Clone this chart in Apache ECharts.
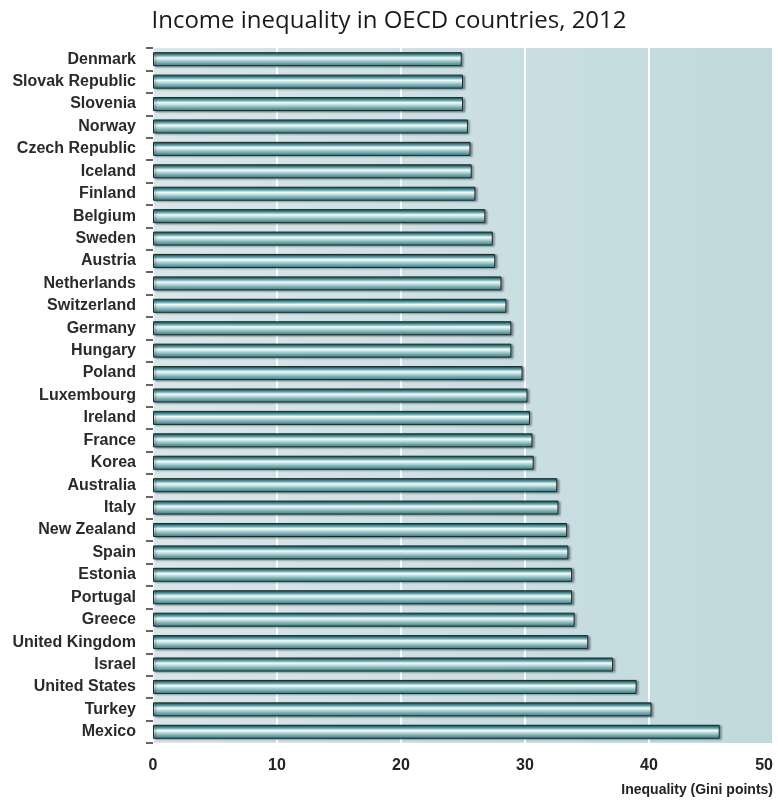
<!DOCTYPE html>
<html>
<head>
<meta charset="utf-8">
<script src="https://cdn.jsdelivr.net/npm/echarts@6/dist/echarts.min.js"></script>
<style>
    html, body { margin: 0; padding: 0; background: #fff; }
    #chart { width: 778px; height: 802px; }
</style>
</head>
<body>
<div id="chart"></div>
<script>
// countries, top to bottom
var countries = [
    "Denmark", "Slovak Republic", "Slovenia", "Norway", "Czech Republic",
    "Iceland", "Finland", "Belgium", "Sweden", "Austria", "Netherlands",
    "Switzerland", "Germany", "Hungary", "Poland", "Luxembourg", "Ireland",
    "France", "Korea", "Australia", "Italy", "New Zealand", "Spain",
    "Estonia", "Portugal", "Greece", "United Kingdom", "Israel",
    "United States", "Turkey", "Mexico"
];
// Gini points
var gini = [
    24.9, 25.0, 25.0, 25.4, 25.6,
    25.7, 26.0, 26.8, 27.4, 27.6, 28.1,
    28.5, 28.9, 28.9, 29.8, 30.2, 30.4,
    30.6, 30.7, 32.6, 32.7, 33.4, 33.5,
    33.8, 33.8, 34.0, 35.1, 37.1,
    39.0, 40.2, 45.7
];
var xTicks = [0, 10, 20, 30, 40, 50];

var chart = echarts.init(document.getElementById("chart"));

// tube look on the bars
var barFill = new echarts.graphic.LinearGradient(0, 0, 0, 1, [
    {offset: 0, color: "#1f565b"},
    {offset: 0.12, color: "#33818a"},
    {offset: 0.26, color: "#78b2b6"},
    {offset: 0.4, color: "#f4fafa"},
    {offset: 0.54, color: "#c6dfe0"},
    {offset: 0.78, color: "#6aa8ad"},
    {offset: 1, color: "#357d83"}
]);

var option = {
    animation: false,
    title: {
        text: "Income inequality in OECD countries, 2012",
        left: "center",
        top: 4,
        textStyle: {
            fontFamily: "Open Sans",
            fontSize: 24,
            fontWeight: "normal",
            color: "#1a1a1a"
        }
    },
    grid: {
        left: 153,
        right: 5,
        top: 48,
        bottom: 59,
        outerBoundsMode: "none",
        show: true,
        borderWidth: 0,
        backgroundColor: new echarts.graphic.LinearGradient(0, 0, 1, 0, [
            {offset: 0, color: "#d9e7e9"},
            {offset: 1, color: "#bfd9dd"}
        ])
    },
    xAxis: {
        type: "value",
        min: 0,
        max: 50,
        interval: 10,
        name: "Inequality (Gini points)",
        nameLocation: "end",
        nameGap: 0,
        nameTextStyle: {
            fontFamily: "Liberation Sans",
            fontWeight: "bold",
            fontSize: 14,
            color: "#222",
            align: "right",
            verticalAlign: "top",
            padding: [40, 0, 0, 0]
        },
        axisLine: {show: false},
        axisTick: {show: false},
        axisLabel: {
            margin: 15,
            fontFamily: "Liberation Sans",
            fontWeight: "bold",
            fontSize: 16,
            color: "#222",
            alignMaxLabel: "right",
            formatter: function (v) {
                return xTicks.indexOf(v) >= 0 ? String(v) : "";
            }
        },
        splitLine: {
            show: true,
            lineStyle: {color: "#ffffff", width: 2}
        }
    },
    yAxis: {
        type: "category",
        inverse: true,
        data: countries,
        axisLine: {show: false},
        axisTick: {
            show: true,
            length: 7,
            lineStyle: {color: "#333", width: 1.5}
        },
        axisLabel: {
            margin: 17,
            fontFamily: "Liberation Sans",
            fontWeight: "bold",
            fontSize: 16,
            color: "#2a2a2a"
        },
        splitLine: {show: false}
    },
    series: [{
        type: "bar",
        data: gini,
        barWidth: 14,
        itemStyle: {
            color: barFill,
            borderColor: "#1e2a2c",
            borderWidth: 1,
            shadowColor: "rgba(0,0,0,0.35)",
            shadowBlur: 2,
            shadowOffsetX: 2,
            shadowOffsetY: 1
        }
    }]
};

chart.setOption(option);
</script>
</body>
</html>
